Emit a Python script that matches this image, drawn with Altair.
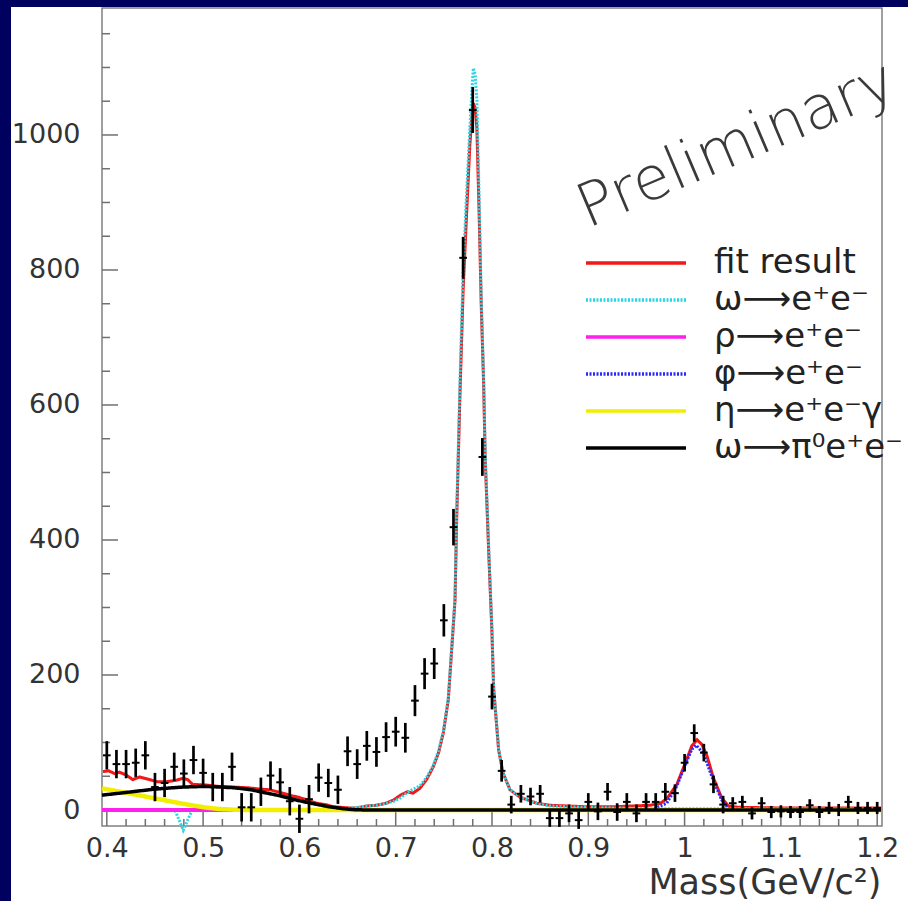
import altair as alt
import pandas as pd

# ---------------- data ----------------
bin_x = [0.40, 0.41, 0.42, 0.43, 0.44, 0.45, 0.46, 0.47, 0.48, 0.49,
         0.50, 0.51, 0.52, 0.53, 0.54, 0.55, 0.56, 0.57, 0.58, 0.59,
         0.60, 0.61, 0.62, 0.63, 0.64, 0.65, 0.66, 0.67, 0.68, 0.69,
         0.70, 0.71, 0.72, 0.73, 0.74, 0.75, 0.76, 0.77, 0.78, 0.79,
         0.80, 0.81, 0.82, 0.83, 0.84, 0.85, 0.86, 0.87, 0.88, 0.89,
         0.90, 0.91, 0.92, 0.93, 0.94, 0.95, 0.96, 0.97, 0.98, 0.99,
         1.00, 1.01, 1.02, 1.03, 1.04, 1.05, 1.06, 1.07, 1.08, 1.09,
         1.10, 1.11, 1.12, 1.13, 1.14, 1.15, 1.16, 1.17, 1.18, 1.19,
         1.20]
counts = [81, 68, 68, 70, 81, 34, 40, 64, 54, 74,
          55, 34, 34, 64, 4, 4, 27, 51, 41, 13,
          -13, 16, 48, 40, 30, 87, 68, 95, 86, 108,
          116, 107, 162, 202, 217, 281, 419, 818, 1037, 523,
          168, 58, 8, 24, 20, 24, -12, -12, -5, -15,
          12, -2, 27, -3, 12, -5, 12, 12, 27, 25,
          70, 114, 85, 38, 8, 10, 12, -5, 10, -3,
          -2, -3, -3, 7, -3, 3, 0, 12, 3, 3,
          3]
errors = [21, 21, 21, 21, 21, 21, 21, 21, 21, 21,
          21, 21, 21, 21, 21, 21, 21, 21, 21, 21,
          21, 21, 21, 21, 21, 22, 22, 22, 22, 22,
          22, 22, 23, 23, 23, 24, 27, 31, 34, 28,
          19, 16, 13, 13, 13, 13, 13, 13, 13, 13,
          13, 13, 13, 13, 13, 13, 13, 13, 13, 13,
          13, 13, 13, 13, 13, 9, 9, 9, 9, 9,
          9, 9, 9, 9, 9, 9, 9, 9, 9, 9,
          9]

fit_x = [0.396, 0.402, 0.408, 0.413, 0.420, 0.427, 0.434, 0.442, 0.452, 0.462,
         0.472, 0.479, 0.484, 0.489, 0.503, 0.516, 0.531, 0.546, 0.559, 0.569,
         0.580, 0.590, 0.601, 0.610, 0.618, 0.627, 0.635, 0.643, 0.652, 0.660,
         0.670, 0.680, 0.690, 0.698, 0.705, 0.712, 0.718, 0.725, 0.732, 0.739,
         0.7445, 0.7494, 0.7546, 0.7581, 0.7616, 0.7633, 0.7668, 0.770, 0.7735, 0.777,
         0.7795, 0.7806, 0.7825, 0.7843, 0.7867, 0.7888, 0.7913, 0.7929, 0.7965, 0.7999,
         0.8017, 0.8069, 0.8114, 0.8187, 0.829, 0.8464, 0.8602, 0.8945, 0.9295, 0.9641,
         0.975, 0.9817, 0.992, 1.0025, 1.0075, 1.0129, 1.018, 1.0233, 1.0298, 1.0385,
         1.0454, 1.055, 1.10, 1.15, 1.204]
fit_y = [57, 58, 54, 56, 52, 45, 49, 46, 42, 42,
         44, 47, 45, 38, 37, 35, 34, 33, 31, 30,
         26, 22, 18, 14, 10, 8, 5, 4, 3, 3,
         6, 7, 10, 15, 22, 27, 25, 32, 45, 64,
         85, 114, 163, 237, 311, 430, 620, 770, 880, 985,
         1035, 1047, 1040, 1010, 880, 750, 632, 523, 385, 265,
         180, 89, 55, 30, 19, 10, 7, 5, 5, 7,
         10, 17, 38, 76, 95, 104, 97, 80, 48, 18,
         6, 4, 3, 3, 3]

omega_x = [0.395, 0.4708, 0.4794, 0.4885, 0.600, 0.635, 0.6556, 0.6699, 0.680, 0.6906,
           0.698, 0.705, 0.7131, 0.7252, 0.732, 0.739, 0.7445, 0.7494, 0.7546, 0.7581,
           0.7616, 0.7633, 0.7668, 0.770, 0.7735, 0.777, 0.7795, 0.7806, 0.7825, 0.7843,
           0.7867, 0.7878, 0.7888, 0.7913, 0.7929, 0.7965, 0.7999, 0.8017, 0.8069, 0.8114,
           0.8187, 0.829, 0.8464, 0.8602, 0.8945, 0.9295, 0.9641, 1.0, 1.1, 1.204]
omega_y = [0, 0, -30, 0, 0, 1, 3, 6, 7, 10,
           13, 18, 27, 36, 48, 66, 88, 116, 166, 240,
           315, 440, 640, 800, 910, 1010, 1075, 1099, 1090, 1052,
           904, 830, 760, 640, 530, 390, 268, 182, 90, 55,
           30, 19, 10, 6, 4, 3, 2, 2, 1.5, 1]

rho_x = [0.395, 1.204]
rho_y = [0, 0]

phi_x = [0.965, 0.9814, 0.9918, 1.0022, 1.0075, 1.012, 1.0194, 1.0298, 1.0385,
         1.0454, 1.055, 1.204]
phi_y = [0, 10, 35, 72, 90, 96, 84, 44, 15,
         3, 0, 0]

eta_x = [0.395, 0.422, 0.440, 0.458, 0.480, 0.501, 0.516, 0.535, 0.555, 1.204]
eta_y = [32, 25, 20, 15, 9, 4, 1.5, 0.3, 0, 0]

dalitz_x = [0.395, 0.420, 0.450, 0.479, 0.502, 0.532, 0.550, 0.563, 0.580, 0.596,
            0.612, 0.630, 0.645, 0.657, 0.670, 1.204]
dalitz_y = [22, 26, 31, 34, 35, 33, 30, 26, 21, 15,
            10, 5, 2, 0.5, 0, 0]

series_names = ["fit result", "ω⟶e⁺e⁻", "ρ⟶e⁺e⁻", "φ⟶e⁺e⁻", "η⟶e⁺e⁻γ", "ω⟶π⁰e⁺e⁻"]
series_colors = ["#f01818", "#2ad6e4", "#ff20f0", "#2a2aff", "#f2ee00", "#000000"]
series_dashes = [[1, 0], [2, 1.5], [1, 0], [2, 1.5], [1, 0], [1, 0]]
series_widths = [3, 3, 4, 3, 4.5, 3.5]

x_major = [0.4, 0.5, 0.6, 0.7, 0.8, 0.9, 1.0, 1.1, 1.2]
x_minor = [0.42, 0.44, 0.46, 0.48, 0.52, 0.54, 0.56, 0.58, 0.62, 0.64, 0.66, 0.68,
           0.72, 0.74, 0.76, 0.78, 0.82, 0.84, 0.86, 0.88, 0.92, 0.94, 0.96, 0.98,
           1.02, 1.04, 1.06, 1.08, 1.12, 1.14, 1.16, 1.18]
y_major = [0, 200, 400, 600, 800, 1000]
y_minor = [50, 100, 150, 250, 300, 350, 450, 500, 550, 650, 700, 750,
           850, 900, 950, 1050, 1100, 1150]

note_text = ["Preliminary"]
note_x = [0.8995]
note_y = [862]

# ---------------- scales / axes ----------------
W, H = 780, 818
xscale = alt.Scale(domain=[0.395, 1.205], nice=False, zero=False)
yscale = alt.Scale(domain=[-23.7, 1188.1], nice=False, zero=False)

xaxis = alt.Axis(values=x_major, format="~g", title="Mass(GeV/c²)",
                 domain=False, ticks=False, tickSize=0, grid=False,
                 labelFont="DejaVu Sans", labelFontSize=27, labelColor="#333333",
                 labelPadding=9, labelFlush=False,
                 titleFont="DejaVu Sans", titleFontSize=35, titleFontWeight="normal",
                 titleColor="#333333", titleAlign="right", titleBaseline="alphabetic",
                 titleX=779, titleY=67)
yaxis = alt.Axis(values=y_major, format="d", title=None,
                 domain=False, ticks=False, tickSize=0, grid=False,
                 labelFont="DejaVu Sans", labelFontSize=27, labelColor="#333333",
                 labelPadding=22, labelFlush=False)


def X(f):
    return alt.X(f, type="quantitative", scale=xscale, axis=xaxis)


def Y(f):
    return alt.Y(f, type="quantitative", scale=yscale, axis=yaxis)


cscale = alt.Scale(domain=series_names, range=series_colors)
dscale = alt.Scale(domain=series_names, range=series_dashes)
leg = alt.Legend(title=None, orient="none", legendX=517, legendY=238,
                 symbolType="M-5,0H5", symbolSize=400, symbolStrokeWidth=3.5,
                 symbolFillColor="transparent",
                 labelFont="DejaVu Sans", labelFontSize=34, labelColor="#222222",
                 labelLimit=600, labelOffset=61, rowPadding=3, padding=0)

# ---------------- layers ----------------
navy = "#00005e"
frame_df = pd.DataFrame({"k": [0]})
top_strip = alt.Chart(frame_df).mark_rect(color=navy).encode(
    x=alt.value(-102), x2=alt.value(806), y=alt.value(-8), y2=alt.value(-1))
left_strip = alt.Chart(frame_df).mark_rect(color=navy).encode(
    x=alt.value(-102), x2=alt.value(-91), y=alt.value(-8), y2=alt.value(893))

tick_color = "#707070"
xmaj = alt.Chart(pd.DataFrame({"x": x_major})).mark_rule(color=tick_color, strokeWidth=1.5).encode(
    x=X("x"), y=alt.value(H), y2=alt.value(H - 14))
xmin = alt.Chart(pd.DataFrame({"x": x_minor})).mark_rule(color=tick_color, strokeWidth=1.5).encode(
    x=X("x"), y=alt.value(H), y2=alt.value(H - 7))
ymaj = alt.Chart(pd.DataFrame({"y": y_major})).mark_rule(color=tick_color, strokeWidth=1.5).encode(
    y=Y("y"), x=alt.value(0), x2=alt.value(16))
ymin = alt.Chart(pd.DataFrame({"y": y_minor})).mark_rule(color=tick_color, strokeWidth=1.5).encode(
    y=Y("y"), x=alt.value(0), x2=alt.value(8))

curve_data = [(fit_x, fit_y), (omega_x, omega_y), (rho_x, rho_y),
              (phi_x, phi_y), (eta_x, eta_y), (dalitz_x, dalitz_y)]
curves = []
for name, (cx, cy), w in zip(series_names, curve_data, series_widths):
    df = pd.DataFrame({"x": cx, "y": cy, "series": name})
    curves.append(
        alt.Chart(df).mark_line(strokeWidth=w, interpolate="linear").encode(
            x=X("x"), y=Y("y"),
            color=alt.Color("series:N", scale=cscale, legend=leg),
            strokeDash=alt.StrokeDash("series:N", scale=dscale, legend=leg),
        )
    )

pts = pd.DataFrame({"x": bin_x, "v": counts, "e": errors})
pts["lo"] = pts["v"] - pts["e"]
pts["hi"] = pts["v"] + pts["e"]
pts["xlo"] = pts["x"] - 0.004
pts["xhi"] = pts["x"] + 0.004

vbars = alt.Chart(pts).mark_rule(color="black", strokeWidth=2.7).encode(
    x=X("x"), y=Y("lo"), y2=alt.Y2("hi"))
hbars = alt.Chart(pts).mark_rule(color="black", strokeWidth=2).encode(
    x=X("xlo"), x2=alt.X2("xhi"), y=Y("v"))

note = alt.Chart(pd.DataFrame({"x": note_x, "y": note_y, "t": note_text})).mark_text(
    font="DejaVu Sans", fontSize=60, fontWeight=200, color="#3a3a3a",
    align="left", baseline="alphabetic", angle=337).encode(
    x=X("x"), y=Y("y"), text="t:N")

chart = alt.layer(
    top_strip, left_strip, xmaj, xmin, ymaj, ymin, *curves, vbars, hbars, note
).properties(
    width=W, height=H,
    autosize=alt.AutoSizeParams(type="none"),
    padding={"left": 102, "top": 8, "right": 26, "bottom": 75},
    background="white",
).configure_view(stroke="#808080", strokeWidth=1.5)

chart.save("out.html", embed_options={"renderer": "svg", "actions": False})
